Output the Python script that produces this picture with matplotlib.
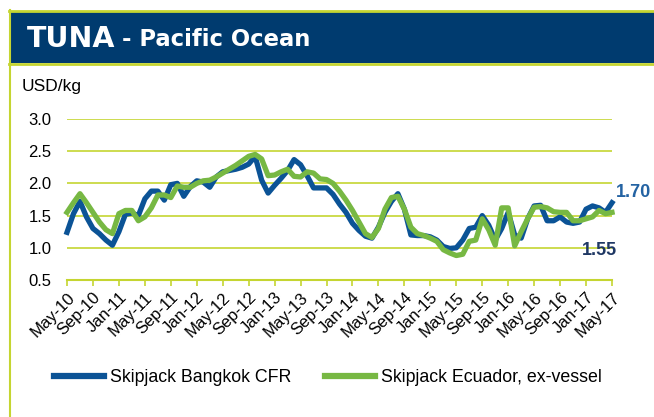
import matplotlib.pyplot as plt
from matplotlib.patches import Rectangle
from matplotlib.lines import Line2D

plt.rcParams['font.family'] = ['Liberation Sans', 'DejaVu Sans']

# Data ---------------------------------------------------------------
# monthly prices, May-10 .. May-17 (USD/kg)
tick_labels = ["May-10", "Sep-10", "Jan-11", "May-11", "Sep-11", "Jan-12",
               "May-12", "Sep-12", "Jan-13", "May-13", "Sep-13", "Jan-14",
               "May-14", "Sep-14", "Jan-15", "May-15", "Sep-15", "Jan-16",
               "May-16", "Sep-16", "Jan-17", "May-17"]

bangkok = [1.24, 1.53, 1.72, 1.48, 1.30, 1.22, 1.12, 1.04, 1.25, 1.52,
           1.54, 1.50, 1.76, 1.88, 1.88, 1.74, 1.98, 2.00, 1.80, 1.95,
           2.04, 2.02, 1.94, 2.10, 2.18, 2.20, 2.22, 2.25, 2.30, 2.42,
           2.05, 1.85, 1.97, 2.08, 2.20, 2.37, 2.29, 2.12, 1.93, 1.93,
           1.93, 1.83, 1.68, 1.55, 1.38, 1.27, 1.18, 1.15, 1.32, 1.55,
           1.72, 1.84, 1.60, 1.20, 1.19, 1.19, 1.17, 1.12, 1.02, 0.99,
           1.00, 1.12, 1.30, 1.32, 1.50, 1.35, 1.12, 1.30, 1.55, 1.20,
           1.15, 1.45, 1.65, 1.66, 1.42, 1.42, 1.48, 1.40, 1.38, 1.40,
           1.60, 1.65, 1.62, 1.55, 1.70]

ecuador = [1.55, 1.70, 1.84, 1.70, 1.55, 1.40, 1.28, 1.22, 1.53, 1.58,
           1.58, 1.42, 1.48, 1.62, 1.82, 1.82, 1.78, 1.96, 1.94, 1.94,
           2.00, 2.04, 2.05, 2.10, 2.16, 2.22, 2.28, 2.35, 2.42, 2.45,
           2.38, 2.12, 2.13, 2.18, 2.22, 2.11, 2.10, 2.18, 2.16, 2.07,
           2.06, 2.00, 1.88, 1.74, 1.58, 1.40, 1.22, 1.16, 1.30, 1.60,
           1.78, 1.80, 1.60, 1.32, 1.22, 1.19, 1.15, 1.10, 0.97, 0.92,
           0.88, 0.90, 1.10, 1.12, 1.45, 1.28, 1.04, 1.62, 1.62, 1.03,
           1.25, 1.45, 1.63, 1.64, 1.62, 1.56, 1.55, 1.55, 1.42, 1.42,
           1.45, 1.48, 1.58, 1.53, 1.55]

yticks = [0.5, 1.0, 1.5, 2.0, 2.5, 3.0]

# Colours
navy = '#003b6f'
lime = '#c5d531'
blue = '#0b5396'
green = '#77b843'

W, H = 654, 417


def fx(x):
    return x / W


def fy(y):
    return 1 - y / H


fig = plt.figure(figsize=(W / 100, H / 100), dpi=100)

# header band + border
fig.add_artist(Rectangle((fx(10), fy(63)), 1 - fx(10), 51 / H,
                         transform=fig.transFigure, color=navy, lw=0))
fig.add_artist(Line2D([fx(9), 1], [fy(11), fy(11)], color=lime, lw=2,
                      transform=fig.transFigure))
fig.add_artist(Line2D([fx(9), 1], [fy(64), fy(64)], color=lime, lw=2,
                      transform=fig.transFigure))
fig.add_artist(Line2D([fx(9.5), fx(9.5)], [fy(10), 0], color=lime, lw=1.5,
                      transform=fig.transFigure))

fig.text(fx(27), fy(39), "TUNA", fontsize=20.5, weight='bold', color='white',
         va='center', family='DejaVu Sans')
fig.text(fx(122), fy(40), "- Pacific Ocean", fontsize=16.3, weight='bold',
         color='white', va='center', family='DejaVu Sans')
fig.text(fx(22), fy(86), "USD/kg", fontsize=12.5, va='center')

# chart
ax = fig.add_axes([fx(67), fy(280), (612 - 67) / W, (280 - 119) / H])
x = list(range(len(bangkok)))
ax.plot(x, bangkok, color=blue, lw=3.8, solid_joinstyle='round',
        label="Skipjack Bangkok CFR", clip_on=False, zorder=3)
ax.plot(x, ecuador, color=green, lw=3.8, solid_joinstyle='round',
        label="Skipjack Ecuador, ex-vessel", clip_on=False, zorder=4)

ax.set_xlim(0, len(bangkok) - 1)
ax.set_ylim(0.5, 3.0)
ax.set_yticks(yticks)
ax.set_yticklabels([f"{v:.1f}" for v in yticks], fontsize=12)
ax.set_xticks(range(0, len(bangkok), 4))
ax.set_xticklabels(tick_labels, rotation=45, ha='right',
                   rotation_mode='anchor', fontsize=12)
ax.grid(axis='y', color=lime, lw=1.2)
ax.set_axisbelow(True)
for s in ['left', 'top', 'right']:
    ax.spines[s].set_visible(False)
ax.spines['bottom'].set_color(lime)
ax.spines['bottom'].set_linewidth(1.5)
ax.tick_params(axis='y', length=0, pad=11)
ax.tick_params(axis='x', length=4, width=1.2, color=lime, pad=3)

ax.annotate(f"{bangkok[-1]:.2f}", xy=(x[-1], bangkok[-1]), xytext=(4, 10),
            textcoords='offset pixels', ha='left', va='center',
            fontsize=13, weight='bold', color='#2463a3')
ax.annotate(f"{ecuador[-1]:.2f}", xy=(x[-1], ecuador[-1]), xytext=(5, -38),
            textcoords='offset pixels', ha='right', va='center',
            fontsize=13, weight='bold', color='#1f3864')

handles, labels = ax.get_legend_handles_labels()
leg = fig.legend(handles, labels, loc='center', bbox_to_anchor=(fx(328), fy(378)),
                 ncol=2, frameon=False, fontsize=12.8, handlelength=2.8,
                 handletextpad=0.35, columnspacing=1.9)
for ln in leg.get_lines():
    ln.set_linewidth(4.5)

fig.savefig('out.png', dpi=100)
